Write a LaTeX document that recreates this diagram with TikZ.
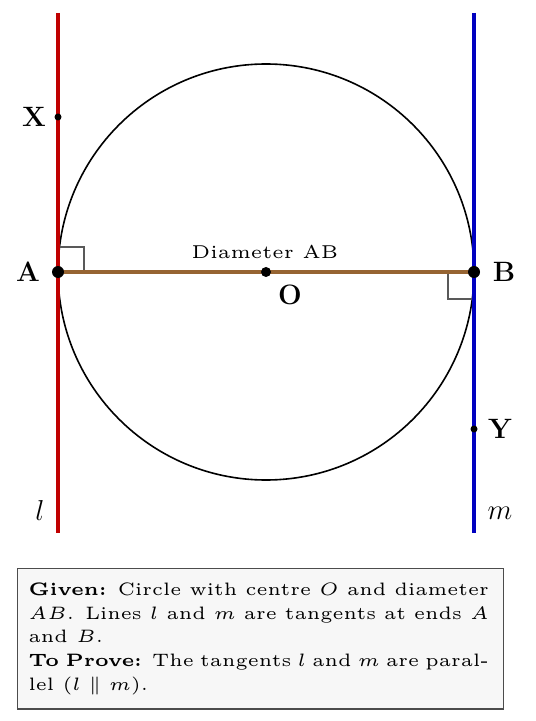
\documentclass[tikz,border=0pt]{standalone}
\usepackage{amsmath}
\usepackage{graphicx}
\definecolor{lred}{RGB}{192,0,0}
\definecolor{lblue}{RGB}{0,0,192}
\definecolor{dbrown}{RGB}{150,100,50}
\newcommand{\smallwide}[1]{\scalebox{1.86}{\fontsize{5}{6.26}\selectfont #1}}
\tikzset{
  tangent/.style={line width=2pt},
  rmark/.style={draw=black!65,line width=0.55pt},
  bigdot/.style={circle,fill=black,inner sep=0pt,minimum size=6pt},
  meddot/.style={circle,fill=black,inner sep=0pt,minimum size=5pt},
  smalldot/.style={circle,fill=black,inner sep=0pt,minimum size=3.5pt},
  ptlabel/.style={font=\fontsize{14}{16}\selectfont\bfseries},
  linelabel/.style={font=\Large},
  infobox/.style={draw=black!70,line width=0.7pt,fill=black!3,
    inner xsep=5.5pt,inner ysep=7pt,anchor=north west}
}
\begin{document}
\begin{tikzpicture}[x=0.5pt,y=-0.5pt]
\useasboundingbox (0,0) rectangle (535,721);
\coordinate (O) at (266,272);
\coordinate (A) at (58,272);
\coordinate (B) at (474,272);
\coordinate (Lt) at (58,13);
\coordinate (Lb) at (58,533);
\coordinate (Mt) at (474,13);
\coordinate (Mb) at (474,533);
\coordinate (X) at (58,117);
\coordinate (Y) at (474,429);
% circle
\draw[line width=0.8pt] (O) circle[radius=208];
% right angle marks
\draw[rmark] (58,247) -- (84,247) -- (84,272);
\draw[rmark] (448,272) -- (448,299) -- (474,299);
% tangents
\draw[tangent,lred] (Lt) -- (Lb);
\draw[tangent,lblue] (Mt) -- (Mb);
% diameter
\draw[tangent,dbrown] (A) -- (B);
% dots
\node[bigdot] (dA) at (A) {};
\node[bigdot] (dB) at (B) {};
\node[meddot] (dO) at (O) {};
\node[smalldot] (dX) at (X) {};
\node[smalldot] (dY) at (Y) {};
% labels
\node[ptlabel] (lA) at (28,272) {A};
\node[ptlabel] (lB) at (504,272) {B};
\node[ptlabel] (lO) at (290,295) {O};
\node[ptlabel] (lX) at (34,117) {X};
\node[ptlabel] (lY) at (500,429) {Y};
\node[linelabel] (ll) at (40,510) {$l$};
\node[linelabel] (lm) at (500,513) {$m$};
\node[anchor=base,inner sep=0pt] (diam) at (265,259) {\smallwide{Diameter AB}};
% info box
\node[infobox] (info) at (17,568) {\scalebox{1.8}{\parbox{127.8pt}{\fontsize{5}{6.6}\selectfont\hyphenpenalty=10000
\textbf{Given:} Circle with centre $O$ and diameter\linebreak
$AB$. Lines $l$ and $m$ are tangents at ends $A$\linebreak
and $B$.\\
\textbf{To Prove:} The tangents $l$ and $m$ are paral-\linebreak
lel ($l \parallel m$).}}\hspace*{2pt}};
\end{tikzpicture}
\end{document}
